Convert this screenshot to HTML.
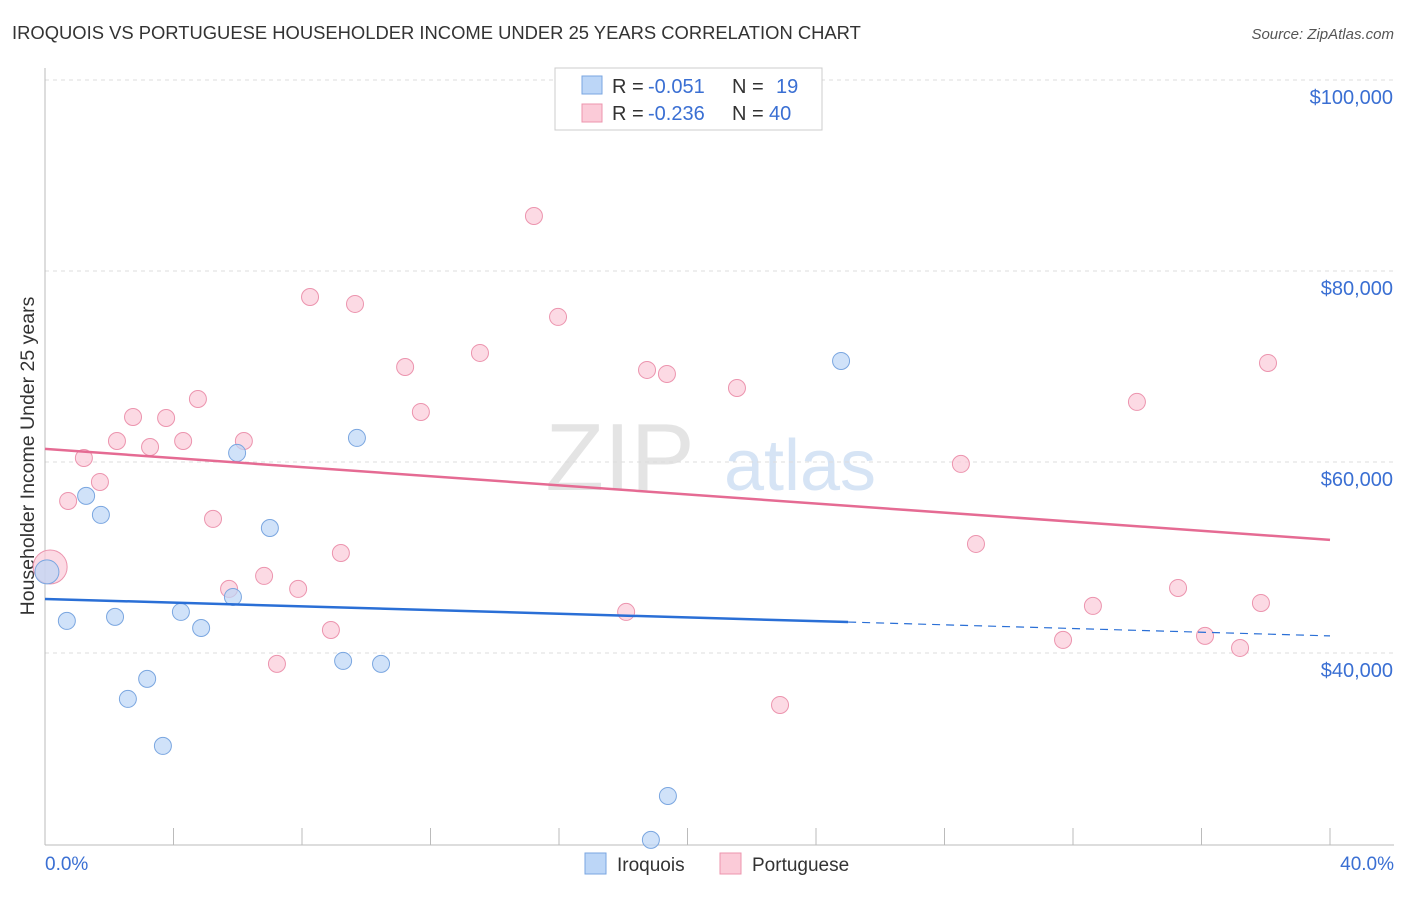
<!DOCTYPE html>
<html><head><meta charset="utf-8"><style>
body{margin:0;background:#fff;font-family:"Liberation Sans",sans-serif}
svg text{font-family:"Liberation Sans",sans-serif}
</style></head><body>
<svg id="c" width="1406" height="892">
<text x="12" y="39" font-size="18.4" fill="#333">IROQUOIS VS PORTUGUESE HOUSEHOLDER INCOME UNDER 25 YEARS CORRELATION CHART</text>
<text x="1394" y="39" font-size="15" fill="#555" font-style="italic" text-anchor="end">Source: ZipAtlas.com</text>
<text x="620" y="490" font-size="96" fill="#e4e4e4" font-family="Liberation Serif" text-anchor="middle">ZIP</text>
<text x="800" y="490" font-size="72" fill="#d6e4f5" text-anchor="middle">atlas</text>
<text transform="translate(34,456) rotate(-90)" font-size="19.5" fill="#333" text-anchor="middle">Householder Income Under 25 years</text>
<g id="grid"></g><g id="marks"></g>
<g>
<rect x="555" y="68" width="267" height="62" fill="#fff" stroke="#ccc"/>
<rect x="582" y="76" width="20" height="18" fill="#bcd6f7" stroke="#7aa6e0"/>
<rect x="582" y="104" width="20" height="18" fill="#fbcbd8" stroke="#ec94ae"/>
<text x="612" y="93" font-size="20" fill="#333">R =</text>
<text x="648" y="93" font-size="20" fill="#3a6fd3">-0.051</text>
<text x="732" y="93" font-size="20" fill="#333">N =</text>
<text x="776" y="93" font-size="20" fill="#3a6fd3">19</text>
<text x="612" y="120" font-size="20" fill="#333">R =</text>
<text x="648" y="120" font-size="20" fill="#3a6fd3">-0.236</text>
<text x="732" y="120" font-size="20" fill="#333">N =</text>
<text x="769" y="120" font-size="20" fill="#3a6fd3">40</text>
</g>
<g>
<rect x="585" y="853" width="21" height="21" fill="#bcd6f7" stroke="#7aa6e0"/>
<text x="617" y="871" font-size="19" fill="#333">Iroquois</text>
<rect x="720" y="853" width="21" height="21" fill="#fbcbd8" stroke="#ec94ae"/>
<text x="752" y="871" font-size="19" fill="#333">Portuguese</text>
</g>
</svg>
<script>
const yTicks=[40000,60000,80000,100000];
const yTickLabels=["$40,000","$60,000","$80,000","$100,000"];
const xTicks=[0,4,8,12,16,20,24,28,32,36,40];
const iroX=[0.06,0.68,1.28,1.74,2.18,2.58,3.18,3.67,4.23,4.86,5.85,5.98,7.0,9.28,9.71,10.46,19.39,18.86,24.78];
const iroY=[48490,43360,56450,54460,43780,35190,37290,30270,44300,42620,45870,60950,53090,39170,62520,38860,25030,20430,70580];
const porX=[0.16,0.72,1.21,1.71,2.24,2.74,3.27,3.77,4.3,4.76,5.23,5.73,6.19,6.82,7.22,7.88,8.25,8.9,9.21,9.65,11.21,11.7,13.54,15.22,15.97,18.09,18.74,19.36,21.54,22.88,28.51,28.98,31.69,32.62,33.99,35.27,36.11,37.2,37.85,38.07];
const porY=[49010,55920,60420,57910,62200,64710,61570,64610,62200,66600,54040,46710,62200,48070,38860,46710,77280,42410,50470,76550,69950,65240,71420,85760,75190,44300,69640,69220,67750,34560,59800,51420,41370,44930,66290,46810,41790,40530,45240,70370];
const iroTrend=[45660,41790];
const porTrend=[61370,51840];
const X=v=>45+v*(1330-45)/40;
const Y=v=>80+(100000-v)*191/20000;
const NS="http://www.w3.org/2000/svg";
function mk(t,a,p){const e=document.createElementNS(NS,t);for(const k in a)e.setAttribute(k,a[k]);p.appendChild(e);return e;}
const g=document.getElementById('grid'),m=document.getElementById('marks');
yTicks.forEach((v,i)=>{
 const l=mk('line',{x1:45,x2:1394,y1:Y(v),y2:Y(v),stroke:'#ddd','stroke-dasharray':'4,4'},g);
 
 
 const t=mk('text',{x:1393,y:Y(v)+24,'font-size':20,fill:'#3a6fd3','text-anchor':'end'},g);t.textContent=yTickLabels[i];
 
 
});
mk('line',{x1:45,x2:1394,y1:845,y2:845,stroke:'#bbb'},g);
mk('line',{x1:45,x2:45,y1:68,y2:845,stroke:'#bbb'},g);
xTicks.forEach(v=>{const l=mk('line',{x1:X(v),x2:X(v),y1:828,y2:845,stroke:'#bbb'},g);
 
 });
const t0=mk('text',{x:45,y:870,'font-size':19,fill:'#3a6fd3'},g);t0.textContent='0.0%';


const t1=mk('text',{x:1394,y:870,'font-size':19,fill:'#3a6fd3','text-anchor':'end'},g);t1.textContent='40.0%';


porX.forEach((x,i)=>{const c=mk('circle',{cx:X(x),cy:Y(porY[i]),r:i==0?17:8.5,fill:'#fbcbd8','fill-opacity':0.7,stroke:'#ec94ae'},m);
 
 });
iroX.forEach((x,i)=>{const c=mk('circle',{cx:X(x),cy:Y(iroY[i]),r:i==0?12:8.5,fill:'#bcd6f7','fill-opacity':0.7,stroke:'#7aa6e0'},m);
 
 });
const ty=x=>iroTrend[0]+(iroTrend[1]-iroTrend[0])*x/40;
const l1=mk('line',{x1:X(0),y1:Y(ty(0)),x2:X(25),y2:Y(ty(25)),stroke:'#2a6fd6','stroke-width':2.5},m);


const l2=mk('line',{x1:X(25),y1:Y(ty(25)),x2:X(40),y2:Y(ty(40)),stroke:'#2a6fd6','stroke-width':1.2,'stroke-dasharray':'8,6'},m);


const l3=mk('line',{x1:X(0),y1:Y(porTrend[0]),x2:X(40),y2:Y(porTrend[1]),stroke:'#e56b93','stroke-width':2.5},m);


</script>
</body></html>
